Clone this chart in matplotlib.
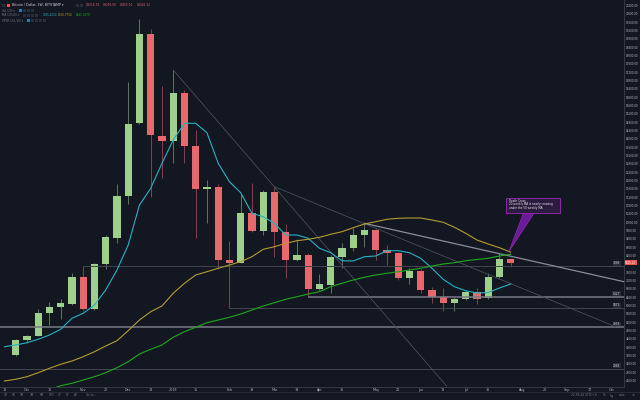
import numpy as np
import matplotlib
matplotlib.use('Agg')
import matplotlib.pyplot as plt
import matplotlib.transforms as mtransforms
from matplotlib.patches import Rectangle, Polygon

# ---------------- data (weekly BTC/USD, Bitstamp) ----------------
opens = [3626, 4330, 4552, 5628, 5916, 6074, 7356, 5820, 7994, 9256, 11258, 14748, 19034, 14138, 13912,
         16216, 13672, 11580, 11704, 8186, 8056, 10428, 9592, 11464, 9544, 8186, 8426, 6780, 6986, 8344,
         8776, 9386, 9626, 8666, 8508, 7308, 7672, 6746, 6424, 6108, 6300, 6664, 6348, 7356, 8216.74]
highs = [4394, 4586, 5834, 6184, 6300, 7576, 7898, 8028, 9386, 11820, 16744, 19754, 19260, 16538, 17306,
         16346, 14426, 12026, 11834, 9112, 11354, 11868, 11546, 11704, 9914, 9180, 8508, 7510, 8426, 9016,
         9708, 9946, 9690, 8906, 8584, 7788, 7740, 6906, 6826, 6424, 6746, 6826, 7548, 8508, 8295.00]
lows = [3578, 4202, 4538, 5066, 5340, 6026, 5760, 5786, 7740, 9016, 10874, 14714, 11196, 12108, 12828,
        12828, 9228, 9946, 7740, 5873, 8028, 9544, 9386, 8344, 7308, 8152, 6458, 6746, 6588, 7816,
        8632, 8824, 8186, 7946, 7226, 7020, 6588, 6108, 5752, 5752, 6266, 6060, 6314, 7340, 7855.01]
closes = [4346, 4552, 5656, 5944, 6108, 7356, 5820, 7994, 9276, 11258, 14714, 19034, 14186, 13912, 16188,
          13672, 11580, 11704, 8186, 8056, 10428, 9592, 11464, 9544, 8186, 8426, 6780, 7020, 8344, 8776,
          9386, 9626, 8666, 8508, 7308, 7672, 6746, 6424, 6108, 6300, 6664, 6300, 7384, 8220, 8045.12]

# moving averages (first value is one week before the first candle)
ma10 = [4024, 4106, 4216, 4380, 4586, 4860, 5388, 5628, 6026, 6746, 7706, 8906, 10826, 11628, 12828,
        13946, 14748, 14748, 14296, 12828, 11944, 11416, 10428, 10264, 9946, 9386, 9386, 9228, 8748,
        8536, 8152, 8138, 8344, 8378, 8632, 8632, 8536, 8268, 7788, 7260, 6904, 6712, 6602, 6626, 6842, 7034]
ma20 = [2378, 2460, 2584, 2776, 2988, 3180, 3338, 3544, 3784, 4058, 4312, 4792, 5306, 5704, 5978,
        6588, 7068, 7466, 7624, 7788, 7946, 8104, 8344, 8700, 8824, 8988, 9112, 9180, 9276, 9420,
        9544, 9736, 9914, 10024, 10140, 10188, 10202, 10202, 10106, 9996, 9756, 9468, 9146, 8954, 8776, 8560]
# 50-week MA starts at candle 3 (below the visible range there)
ma50 = [1960, 2152, 2268, 2426, 2584, 2776, 3016, 3304, 3674, 3900, 4106, 4476, 4744, 4956, 5176,
        5306, 5436, 5594, 5786, 5978, 6136, 6300, 6424, 6554, 6664, 6904, 7068, 7226, 7356, 7466,
        7548, 7624, 7706, 7788, 7898, 7994, 8056, 8152, 8210, 8268, 8378, 8460]

# horizontal levels: (start week, price, label)
level_start = [6, -2, -2, 26, 19]
level_price = [7898, 4978, 2969, 6427, 5873]
level_label = ['7898', '4978', '2969', '6427', '5873']

# trend lines: (week0, price0, week1, price1)
trend_a = (14, 17306, 38.3, 2138)
trend_b = (23, 11704, 53.3, 4990)
trend_c = (31, 9946, 54.07, 7144)

xtick_pos = [-1, 1, 3, 6, 8, 10, 12, 14, 16, 19, 21, 23, 25, 27, 29, 32, 34, 36, 38, 40, 42, 45, 47, 49, 51, 53]
xtick_lab = ['18', 'Oct', '16', 'Nov', '20', 'Dec', '18', '2018', '15', 'Feb', '19', 'Mar', '19', 'Apr',
             '16', 'May', '21', 'Jun', '18', 'Jul', '16', 'Aug', '20', 'Sep', '17', 'Oct']
ytick_vals = list(range(2400, 20401, 400))

# ---------------- styling ----------------
BG = '#131722'
TXT = '#b2b5be'
UP = '#9fd08b'
DN = '#e8696d'
UPW = '#5d7359'
DNW = '#7d4045'

fig = plt.figure(figsize=(6.4, 4.0), dpi=100, facecolor=BG)
ax = fig.add_axes([0, 13.5 / 400, 624 / 640, 386.5 / 400])
ax.set_facecolor(BG)
ax.set_xlim(-1.3956, 54.07)
ax.set_ylim(2114, 20666)

x = np.arange(len(opens))
o = np.array(opens); c = np.array(closes); h = np.array(highs); l = np.array(lows)
up = c >= o
body_col = np.where(up, UP, DN)
wick_col = np.where(up, UPW, DNW)
ax.vlines(x, l, h, colors=wick_col, lw=0.75, zorder=2)
bottoms = np.minimum(o, c)
heights = np.maximum(np.abs(c - o), 60)
ax.bar(x, heights, bottom=bottoms, width=0.64, color=body_col, edgecolor='none', zorder=3)

# drawings
for s, p, lab in zip(level_start, level_price, level_label):
    if lab in ('4978', '6427'):
        col, lw = '#787b86', 1.1
    else:
        col, lw = '#434651', 0.7
    ax.plot([s, 54.07], [p, p], color=col, lw=lw, zorder=4, solid_capstyle='butt')
    ax.text(53.75, p + 40, lab, fontsize=2.1, color='#d1d4dc', ha='right', va='bottom', zorder=6,
            bbox=dict(facecolor='#2a2e39', edgecolor='none', pad=0.3))

ax.plot([trend_a[0], trend_a[2]], [trend_a[1], trend_a[3]], color='#4a4e59', lw=0.6, zorder=4)
ax.plot([trend_b[0], trend_b[2]], [trend_b[1], trend_b[3]], color='#4a4e59', lw=0.6, zorder=4)
ax.plot([trend_c[0], trend_c[2]], [trend_c[1], trend_c[3]], color='#8a8d96', lw=0.9, zorder=4)

# moving averages
ax.plot(np.arange(-1, len(ma10) - 1), ma10, color='#22b3c4', lw=0.8, zorder=5)
ax.plot(np.arange(-1, len(ma20) - 1), ma20, color='#b49b32', lw=0.8, zorder=5)
ax.plot(np.arange(3, 3 + len(ma50)), ma50, color='#1ea81e', lw=0.8, zorder=5)

# death cross callout
ax.add_patch(Polygon([(45.15, 10460), (46.1, 10460), (43.85, 8600)], closed=True,
                     facecolor='#6a1b9a', edgecolor='#9c27b0', lw=0.5, zorder=7))
ax.add_patch(Rectangle((43.58, 10456), 4.8, 692, facecolor='#2b1b3f', edgecolor='#8e24aa',
                       lw=0.7, zorder=8))
for i, t in enumerate(['Death Cross:', '20 weekly MA is nearly crossing', 'under the 50 weekly MA.']):
    ax.text(43.85, 11030 - i * 165, t, fontsize=2.0, color='#e6e6e6', va='center', ha='left', zorder=9)

# axes styling
for sp in ['top', 'left']:
    ax.spines[sp].set_visible(False)
for sp in ['bottom', 'right']:
    ax.spines[sp].set_color('#363a45')
    ax.spines[sp].set_linewidth(0.7)
ax.yaxis.tick_right()
ax.set_yticks(ytick_vals)
ax.set_yticklabels([f'{v:.2f}' for v in ytick_vals])
ax.tick_params(axis='y', length=0, labelsize=2.0, labelcolor=TXT, pad=1.5)
ax.set_xticks(xtick_pos)
ax.set_xticklabels(xtick_lab)
ax.tick_params(axis='x', length=0, labelsize=2.4, labelcolor=TXT, pad=1.2)

# current price label
trans = mtransforms.blended_transform_factory(ax.transAxes, ax.transData)
ax.text(1.002, closes[-1], f'{closes[-1]:.2f}', transform=trans, fontsize=2.0, color='white',
        va='center', ha='left', zorder=10, clip_on=False,
        bbox=dict(facecolor='#ef5350', edgecolor='none', pad=0.4))

# header legend
def ftext(px, py, s, col=TXT, size=2.3, **kw):
    fig.text(px / 640, 1 - py / 400, s, color=col, fontsize=size, va='center', ha='left', **kw)

def fbox(px, py, w, hgt, col):
    fig.add_artist(Rectangle((px / 640, 1 - (py + hgt / 2) / 400), w / 640, hgt / 400,
                             transform=fig.transFigure, facecolor=col, edgecolor='none'))

fbox(2, 5, 3, 3, '#2a2e39')
fbox(7, 5, 3, 3, '#ef5350')
ftext(12, 5, 'Bitcoin / Dollar, 1W, BITSTAMP \u25be', '#d1d4dc', 2.3)
for px in (76, 80):
    fbox(px, 5, 3, 3, '#2a2e39')
ftext(86, 5, 'O8216.74', '#e06666', 2.1)
ftext(103, 5, 'H8295.00', '#e06666', 2.1)
ftext(120, 5, 'L7855.01', '#e06666', 2.1)
ftext(137, 5, 'C8045.12', '#e06666', 2.1)

ftext(2, 10.5, 'Vol (20) \u25be', '#787b86', 2.0)
fbox(19, 10.5, 3, 3, '#2a7ab0')
for px in (23, 27, 31):
    fbox(px, 10.5, 3, 3, '#2a2e39')
ftext(2, 15.5, 'MA (20,50) \u25be', '#787b86', 2.0)
for px in (23, 27, 31, 35):
    fbox(px, 15.5, 3, 3, '#2a2e39')
ftext(43, 15.5, '7045.4214', '#22b3c4', 2.0)
ftext(58, 15.5, '8526.7750', '#b49b32', 2.0)
ftext(76, 15.5, '8445.3478', '#1ea81e', 2.0)
ftext(2, 20.5, 'VPVR (24, 50) \u25be', '#787b86', 2.0)
fbox(27, 20.5, 3, 3, '#2a7ab0')
for px in (31, 35, 39, 43):
    fbox(px, 20.5, 3, 3, '#2a2e39')

# bottom toolbar
fig.add_artist(plt.Line2D([0, 1], [1 - 391.5 / 400] * 2, transform=fig.transFigure,
                          color='#2a2e39', lw=0.6))
for px, s in zip([4, 12, 20, 30, 40, 49, 58, 66, 74, 86],
                 ['1D', '5D', '1M', '3M', '6M', 'YTD', '1Y', '5Y', 'All', 'Go to...']):
    ftext(px, 395.5, s, '#787b86', 2.1)
ftext(571, 395.5, '22:58:44 (UTC+1)', '#787b86', 2.1)
ftext(603, 395.5, '%', '#787b86', 2.1)
ftext(610, 395.5, 'log', '#787b86', 2.1)
ftext(619, 395.5, 'auto', '#787b86', 2.1)
ftext(632, 395.5, '\u2699', '#787b86', 2.4)

fig.savefig('out.png', dpi=100, facecolor=BG)
